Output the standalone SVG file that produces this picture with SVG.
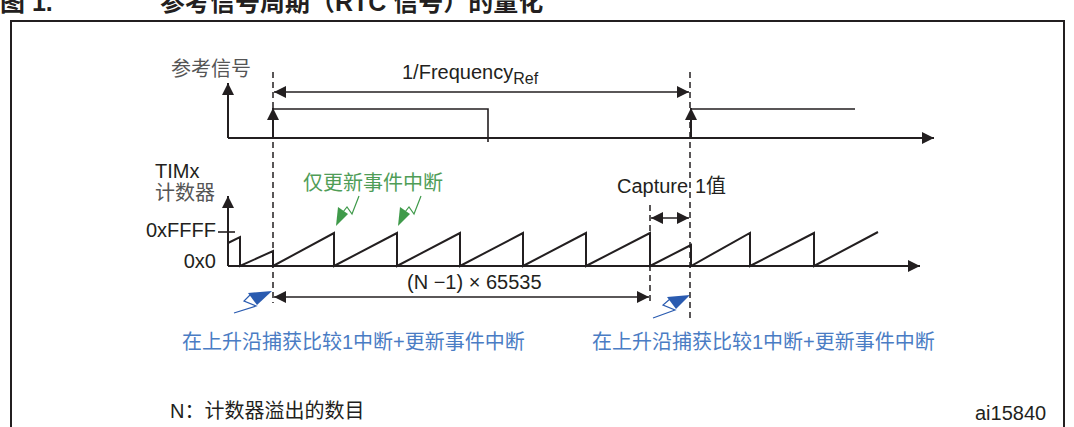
<svg xmlns="http://www.w3.org/2000/svg" width="1074" height="427" viewBox="0 0 1074 427">
<defs>
<style>
.t{font-family:"Liberation Sans","Noto Sans CJK SC",sans-serif;font-size:20px;fill:#231f20}
.ti{font-family:"Liberation Sans","Noto Sans CJK SC",sans-serif;font-size:25px;font-weight:bold;fill:#231f20}
.g{fill:#555}
.ln{stroke:#231f20;stroke-width:1.6;fill:none}
.ax{stroke:#231f20;stroke-width:2;fill:none}
.ds{stroke:#231f20;stroke-width:1.5;stroke-dasharray:6,4;fill:none}
.blue{fill:#4a7cc4}
.green{fill:#4f9d57}
</style>
<marker id="ahb" viewBox="0 0 10 10" refX="10" refY="5" markerWidth="14" markerHeight="12" markerUnits="userSpaceOnUse" orient="auto-start-reverse">
<path d="M0,0 L10,5 L0,10 z" fill="#231f20"/>
</marker>
</defs>
<rect width="1074" height="427" fill="#fff"/>
<text class="ti" x="0" y="11">图 1.</text>
<text class="ti" x="160" y="11">参考信号周期（RTC 信号）的量化</text>
<path d="M11,427 V21 H1064 V427" stroke="#231f20" stroke-width="2" fill="none"/>

<g id="ref-signal">
<text class="t g" x="171" y="76" font-size="19">参考信号</text>
<line class="ax" x1="228" y1="138" x2="228" y2="83" marker-end="url(#ahb)"/>
<line class="ax" x1="228" y1="138" x2="934" y2="138" marker-end="url(#ahb)"/>
<path class="ln" d="M273,138 V109 H488 V142"/>
<path class="ln" d="M691,138 V109 H855"/>
<line class="ax" x1="273" y1="138" x2="273" y2="108" marker-end="url(#ahb)"/>
<line class="ax" x1="691" y1="138" x2="691" y2="108" marker-end="url(#ahb)"/>
<text class="t" x="402" y="79">1/Frequency<tspan font-size="16" dy="5">Ref</tspan></text>
</g>

<g id="counter">
<text class="t" x="155" y="178" font-size="17.5">TIMx</text>
<text class="t g" x="155" y="200" font-size="19">计数器</text>
<text class="t" x="216" y="237" font-size="18" text-anchor="end">0xFFFF</text>
<text class="t" x="216" y="268" font-size="18" text-anchor="end">0x0</text>
<line class="ax" x1="228" y1="266" x2="228" y2="196" marker-end="url(#ahb)"/>
<line class="ln" x1="218" y1="232" x2="235" y2="232"/>
<line class="ax" x1="228" y1="266" x2="920" y2="266" marker-end="url(#ahb)"/>
<path class="ax" d="M228,243 L240,237 V266 L273,251 V266 L334,233 V266 L397,233 V266 L460,233 V266 L523,233 V266 L586,233 V266 L650,233 V266 L691,245 V266 L750,233 V266 L814,233 V266 L878,232"/>
</g>

<g id="labels">
<text class="t green" x="303" y="190">仅更新事件中断</text>
<text class="t" x="617" y="193" font-size="19">Capture<tspan x="695">1值</tspan></text>
<text class="t" x="407" y="289" font-size="19.5">(N −1) × 65535</text>
<text class="t blue" x="182" y="349">在上升沿捕获比较1中断+更新事件中断</text>
<text class="t blue" x="592" y="349">在上升沿捕获比较1中断+更新事件中断</text>
<text class="t" x="170" y="418" font-size="16">N：计数器溢出的数目</text>
<text class="t" x="975" y="420" font-size="13.5">ai15840</text>
</g>

<g id="interrupt-icons">
<g fill="#3f9a4a" stroke="#3f9a4a">
<path d="M359,196 L352,214 L347,207 L343,212" fill="none" stroke-width="1.2"/>
<path d="M336,226 L338,207 L348,214 z" stroke="none"/>
<path d="M421,196 L414,214 L409,207 L405,212" fill="none" stroke-width="1.2"/>
<path d="M398,226 L400,207 L410,214 z" stroke="none"/>
</g>
<g fill="#2a5bb0" stroke="#2a5bb0">
<path d="M234,313 L256,306 L244,301 L251,294" fill="none" stroke-width="1.2"/>
<path d="M272,291 L248,293 L257,305 z" stroke="none"/>
<path d="M653,318 L675,310 L663,305 L670,299" fill="none" stroke-width="1.2"/>
<path d="M690,295 L667,297 L676,309 z" stroke="none"/>
</g>
</g>

<g id="connectors">
<line class="ds" x1="273" y1="72" x2="273" y2="303"/>
<line class="ds" x1="690" y1="72" x2="690" y2="322"/>
<line class="ds" x1="650" y1="205" x2="650" y2="305"/>
<line class="ln" x1="274" y1="92" x2="689" y2="92" marker-start="url(#ahb)" marker-end="url(#ahb)"/>
<line class="ln" x1="274" y1="297" x2="649" y2="297" marker-start="url(#ahb)" marker-end="url(#ahb)"/>
<line class="ln" x1="651" y1="218" x2="689" y2="218" marker-start="url(#ahb)" marker-end="url(#ahb)"/>
</g>
</svg>
